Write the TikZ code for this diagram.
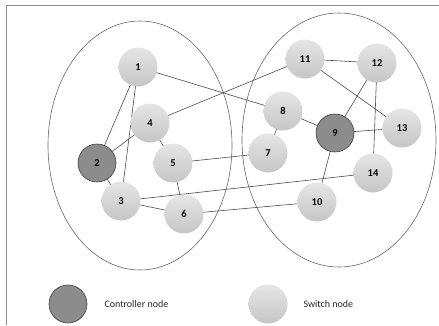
\documentclass[tikz,border=0pt]{standalone}
\usepackage{fontspec}
\setmainfont{Carlito}
\begin{document}
\begin{tikzpicture}[x=1pt,y=-1pt,
  sw/.style={circle,minimum size=39pt,inner sep=0pt,top color=gray!20!white,bottom color=gray!45!white,draw=none,font=\bfseries\fontsize{10.5}{12}\selectfont},
  ctl/.style={circle,minimum size=38pt,inner sep=0pt,top color=gray!90!white,bottom color=gray!110!black,draw=black!75,line width=0.6pt,font=\bfseries\fontsize{10.5}{12}\selectfont},
  link/.style={draw=black!70,line width=0.6pt},
  grp/.style={draw=black!60,line width=0.6pt},
  lbl/.style={anchor=west,font=\fontsize{10}{12}\selectfont,text=black!85}]
\useasboundingbox (0,0) rectangle (439,325);
\draw[draw=black!45,line width=1pt] (6,325) -- (6,5.5) -- (439,5.5);
\draw[grp] (140,145.5) ellipse [x radius=92, y radius=124.5];
\draw[grp] (339,140) ellipse [x radius=97, y radius=127];
\coordinate (c1) at (138,67);
\coordinate (c2) at (97,163);
\coordinate (c3) at (121,201);
\coordinate (c4) at (150,123);
\coordinate (c5) at (173,163);
\coordinate (c6) at (184,214);
\coordinate (c7) at (268,153);
\coordinate (c8) at (283,111);
\coordinate (c9) at (335,133);
\coordinate (c10) at (317,202);
\coordinate (c11) at (305,59);
\coordinate (c12) at (377,63);
\coordinate (c13) at (402,128);
\coordinate (c14) at (373,173);
\foreach \a/\b in {1/8,1/2,1/3,4/11,4/2,4/5,5/7,3/14,3/6,3/2,5/6,6/10,11/12,11/13,12/9,12/14,8/9,8/7,9/13,9/10}
  \draw[link] (c\a) -- (c\b);
\node[sw] (n1) at (c1) {1};
\node[ctl] (n2) at (c2) {2};
\node[sw] (n3) at (c3) {3};
\node[sw] (n4) at (c4) {4};
\node[sw] (n5) at (c5) {5};
\node[sw] (n6) at (c6) {6};
\node[sw] (n7) at (c7) {7};
\node[sw] (n8) at (c8) {8};
\node[ctl] (n9) at (c9) {9};
\node[sw] (n10) at (c10) {10};
\node[sw] (n11) at (c11) {11};
\node[sw] (n12) at (c12) {12};
\node[sw] (n13) at (c13) {13};
\node[sw] (n14) at (c14) {14};
\node[ctl] (lc) at (68,304) {};
\node[lbl] (lct) at (101,304) {Controller node};
\node[sw] (ls) at (268,304) {};
\node[lbl] (lst) at (300,304) {Switch node};
\end{tikzpicture}
\end{document}
